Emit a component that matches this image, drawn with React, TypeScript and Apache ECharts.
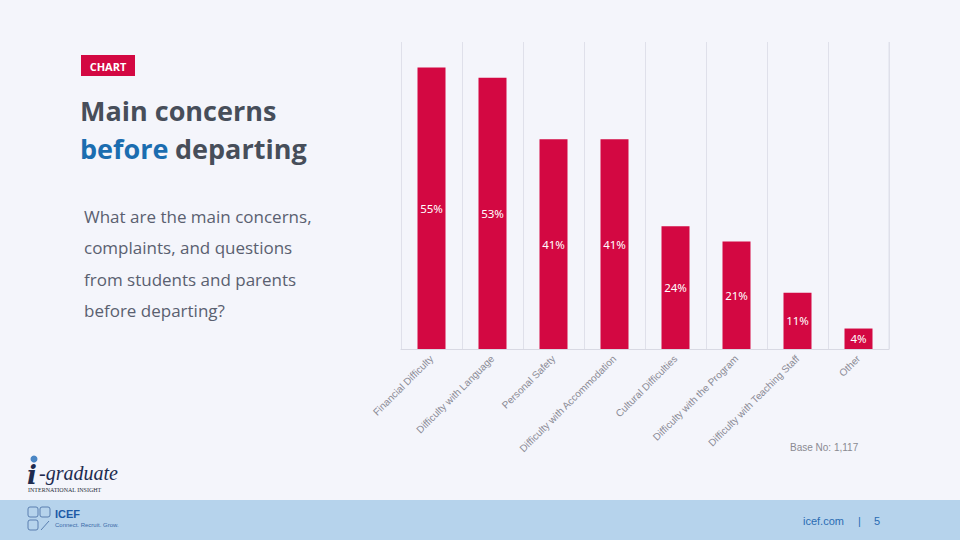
import React, { useEffect, useRef } from "react";
import * as echarts from "echarts";

const categories = [
  "Financial Difficulty",
  "Difficulty with Language",
  "Personal Safety",
  "Difficulty with Accommodation",
  "Cultural Difficulties",
  "Difficulty with the Program",
  "Difficulty with Teaching Staff",
  "Other",
];
const shares = [55, 53, 41, 41, 24, 21, 11, 4];
const questionLines = [
  "What are the main concerns,",
  "complaints, and questions",
  "from students and parents",
  "before departing?",
];

export default function App() {
  const ref = useRef<HTMLDivElement>(null);
  useEffect(() => {
    document.body.style.margin = "0";
    const chart = echarts.init(ref.current!, null, { renderer: "svg" });
    const titleFont = "bold 27px 'Open Sans', sans-serif";
    const graphics: any[] = [
      // CHART badge
      { type: "rect", shape: { x: 81, y: 55, width: 54, height: 21 }, style: { fill: "#d30842" } },
      {
        type: "text",
        style: { text: "CHART", x: 108, y: 66, align: "center", verticalAlign: "middle", font: "bold 11px 'Open Sans', sans-serif", fill: "#ffffff" },
      },
      // Title
      {
        type: "text",
        style: { text: "Main concerns", x: 80, y: 110, verticalAlign: "middle", font: titleFont, fill: "#474e5a" },
      },
      {
        type: "text",
        style: { text: "before", x: 80, y: 148, verticalAlign: "middle", font: titleFont, fill: "#1b6db0" },
      },
      {
        type: "text",
        style: { text: "departing", x: 175, y: 148, verticalAlign: "middle", font: titleFont, fill: "#474e5a" },
      },
      // Base note
      {
        type: "text",
        style: { text: "Base No: 1,117", x: 790, y: 447, verticalAlign: "middle", font: "10px 'Liberation Sans', Arial, sans-serif", fill: "#8a8a92" },
      },
      // footer band
      { type: "rect", shape: { x: 0, y: 500, width: 960, height: 40 }, style: { fill: "#b6d3ec" } },
      {
        type: "text",
        style: { text: "icef.com", x: 803, y: 521, verticalAlign: "middle", font: "11px 'Liberation Sans', Arial, sans-serif", fill: "#2a6cb3" },
      },
      {
        type: "text",
        style: { text: "|", x: 858, y: 521, verticalAlign: "middle", font: "11px 'Liberation Sans', Arial, sans-serif", fill: "#2a6cb3" },
      },
      {
        type: "text",
        style: { text: "5", x: 874, y: 521, verticalAlign: "middle", font: "11px 'Liberation Sans', Arial, sans-serif", fill: "#2a6cb3" },
      },
      // i-graduate logo
      { type: "circle", shape: { cx: 34, cy: 459, r: 3.5 }, style: { fill: "#4a86c5" } },
      {
        type: "text",
        style: { text: "i", x: 27, y: 475, verticalAlign: "middle", font: "italic bold 26px 'DejaVu Serif', serif", fill: "#1d2b4f" },
      },
      {
        type: "text",
        style: { text: "-graduate", x: 39, y: 473, verticalAlign: "middle", font: "italic 20px 'Liberation Serif', serif", fill: "#1d2b4f" },
      },
      {
        type: "text",
        style: { text: "INTERNATIONAL INSIGHT", x: 28, y: 490, verticalAlign: "middle", font: "6px 'Liberation Serif', serif", fill: "#2a2f3a" },
      },
      // ICEF logo
      { type: "rect", shape: { x: 28, y: 507, width: 10, height: 10, r: 2 }, style: { fill: "none", stroke: "#5a7fb0", lineWidth: 1 } },
      { type: "rect", shape: { x: 40, y: 507, width: 10, height: 10, r: 2 }, style: { fill: "none", stroke: "#5a7fb0", lineWidth: 1 } },
      { type: "rect", shape: { x: 28, y: 520, width: 10, height: 10, r: 2 }, style: { fill: "none", stroke: "#5a7fb0", lineWidth: 1 } },
      { type: "line", shape: { x1: 41, y1: 530, x2: 49, y2: 521 }, style: { stroke: "#5a7fb0", lineWidth: 1 } },
      {
        type: "text",
        style: { text: "ICEF", x: 55, y: 514, verticalAlign: "middle", font: "bold 11px 'Liberation Sans', Arial, sans-serif", fill: "#1d5aa6" },
      },
      {
        type: "text",
        style: { text: "Connect. Recruit. Grow.", x: 55, y: 525, verticalAlign: "middle", font: "6px 'Liberation Sans', Arial, sans-serif", fill: "#3a6aa8" },
      },
      // right grid border line
      { type: "line", shape: { x1: 889, y1: 42, x2: 889, y2: 349 }, style: { stroke: "#dfe0ea", lineWidth: 1 } },
    ];
    questionLines.forEach((t, i) => {
      graphics.push({
        type: "text",
        style: { text: t, x: 84, y: 216 + i * 31.5, verticalAlign: "middle", font: "17px 'Open Sans', sans-serif", fill: "#5a6070" },
      });
    });

    chart.setOption({
      animation: false,
      backgroundColor: "#f4f5fb",
      grid: { left: 401, right: 71, top: 42, bottom: 191, containLabel: false },
      xAxis: {
        type: "category",
        data: categories,
        axisLine: { lineStyle: { color: "#d8d9e3" } },
        axisTick: { show: false },
        splitLine: { show: true, lineStyle: { color: "#dfe0ea" } },
        axisLabel: {
          rotate: 45,
          interval: 0,
          margin: 8,
          color: "#8a8a95",
          fontSize: 10,
          fontFamily: "'Liberation Sans', Arial, sans-serif",
        },
      },
      yAxis: {
        type: "value",
        min: 0,
        max: 60,
        show: false,
        splitLine: { show: false },
      },
      series: [
        {
          type: "bar",
          data: shares,
          barWidth: 28,
          itemStyle: { color: "#d30842" },
          label: {
            show: true,
            position: "inside",
            formatter: "{c}%",
            color: "#ffffff",
            fontSize: 11.5,
            fontFamily: "'Noto Sans', sans-serif",
          },
        },
      ],
      graphic: graphics,
    });
    return () => chart.dispose();
  }, []);
  return <div ref={ref} style={{ position: "fixed", left: 0, top: 0, width: 960, height: 540 }} />;
}
